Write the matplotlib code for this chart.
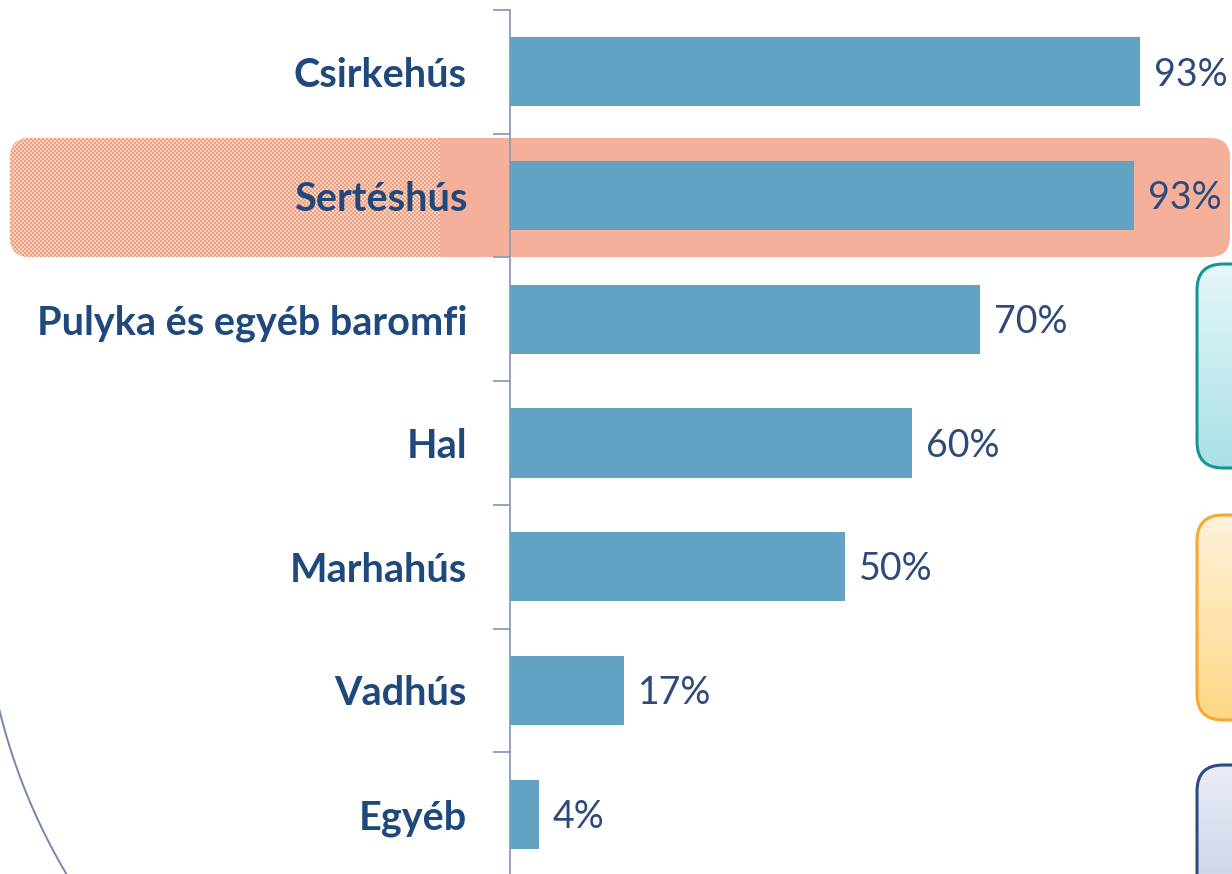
import numpy as np
import matplotlib
matplotlib.use("Agg")
import matplotlib.pyplot as plt
from matplotlib.patches import FancyBboxPatch

# ---- data ----
categories = ["Csirkehús", "Sertéshús", "Pulyka és egyéb baromfi", "Hal",
              "Marhahús", "Vadhús", "Egyéb"]
values = [93.3, 92.4, 69.6, 59.6, 49.6, 16.9, 4.3]
value_labels = ["93%", "93%", "70%", "60%", "50%", "17%", "4%"]

W, H = 1232, 874
DPI = 100
FONT = "Lato"

fig = plt.figure(figsize=(W / DPI, H / DPI), dpi=DPI, facecolor="white")

# background / decoration axes in pixel coordinates (y down)
bg = fig.add_axes([0, 0, 1, 1], zorder=0)
bg.set_xlim(0, W)
bg.set_ylim(H, 0)
bg.axis("off")

# highlight box for Sertéshús
hl = FancyBboxPatch((10, 138), 1220, 119, boxstyle="round,pad=0,rounding_size=20",
                    facecolor="#f4b09a", edgecolor="none", zorder=1)
bg.add_patch(hl)
# textured (dotted) left part
cell = 2
nx, ny = 430 // cell, 120 // cell
ii, jj = np.meshgrid(np.arange(nx), np.arange(ny))
chk = ((ii + jj) % 2).astype(float)
c1 = np.array(matplotlib.colors.to_rgb("#f29c7e"))
c2 = np.array(matplotlib.colors.to_rgb("#fbd3c3"))
tex = c1[None, None, :] * (1 - chk[..., None]) + c2[None, None, :] * chk[..., None]
im = bg.imshow(tex, extent=[10, 10 + nx * cell, 138 + ny * cell, 138],
               interpolation="nearest", zorder=2, aspect="auto")
im.set_clip_path(hl)


def grad_box(x0, y0, w, h, top, bottom, edge):
    p = FancyBboxPatch((x0, y0), w, h, boxstyle="round,pad=0,rounding_size=26",
                       facecolor="none", edgecolor=edge, linewidth=2.2, zorder=4)
    bg.add_patch(p)
    t = np.array(matplotlib.colors.to_rgb(top))
    b = np.array(matplotlib.colors.to_rgb(bottom))
    f = np.linspace(0, 1, 100)[:, None]
    g = (t * (1 - f) + b * f)[:, None, :]
    gi = bg.imshow(g, extent=[x0, x0 + w, y0 + h, y0], aspect="auto",
                   interpolation="bilinear", zorder=3)
    gi.set_clip_path(p)


grad_box(1197, 264, 120, 204, "#e6f7f9", "#a9e0e6", "#159696")
grad_box(1197, 515, 120, 205, "#fff2dc", "#fed785", "#f7a833")
grad_box(1197, 765, 120, 160, "#e9edf6", "#c6cde4", "#2a4c80")

# decorative arc on the left
cx, cy, r = 586, 566, 604
ys = np.linspace(695, 880, 100)
xs = cx - np.sqrt(r ** 2 - (ys - cy) ** 2)
bg.plot(xs, ys, color="#7488aa", lw=1.4, zorder=2)
bg.set_xlim(0, W)
bg.set_ylim(H, 0)

# ---- main chart axes ----
px_per_unit = 6.75
ax_left, ax_top, ax_bottom = 510, 10, 876
ax = fig.add_axes([ax_left / W, (H - ax_bottom) / H, (W - ax_left) / W,
                   (ax_bottom - ax_top) / H], zorder=2)
ax.patch.set_visible(False)
ax.set_xlim(0, (W - ax_left) / px_per_unit)
ax.set_ylim(len(categories) - 0.5, -0.5)

y = np.arange(len(categories))
ax.barh(y, values, height=0.56, color="#62a3c4", zorder=3)

for yi, v, lab in zip(y, values, value_labels):
    ax.annotate(lab, (v, yi), xytext=(10, -2), textcoords="offset points",
                ha="left", va="center", fontsize=27, color="#2e4a7a",
                family=FONT, clip_on=False)

for s in ["top", "right", "bottom"]:
    ax.spines[s].set_visible(False)
ax.spines["left"].set_color("#8d9bb6")
ax.spines["left"].set_linewidth(1.3)
ax.set_xticks([])
ax.set_yticks(y)
ax.set_yticklabels(categories, fontsize=28.5, fontweight="bold", color="#1f497d",
                   family=FONT)
ax.tick_params(axis="y", which="major", length=0, pad=31)
ax.set_yticks(np.arange(-0.5, len(categories) + 0.5, 1), minor=True)
ax.tick_params(axis="y", which="minor", length=12, width=1.3, color="#8d9bb6")

fig.savefig("out.png", dpi=DPI, facecolor="white")
